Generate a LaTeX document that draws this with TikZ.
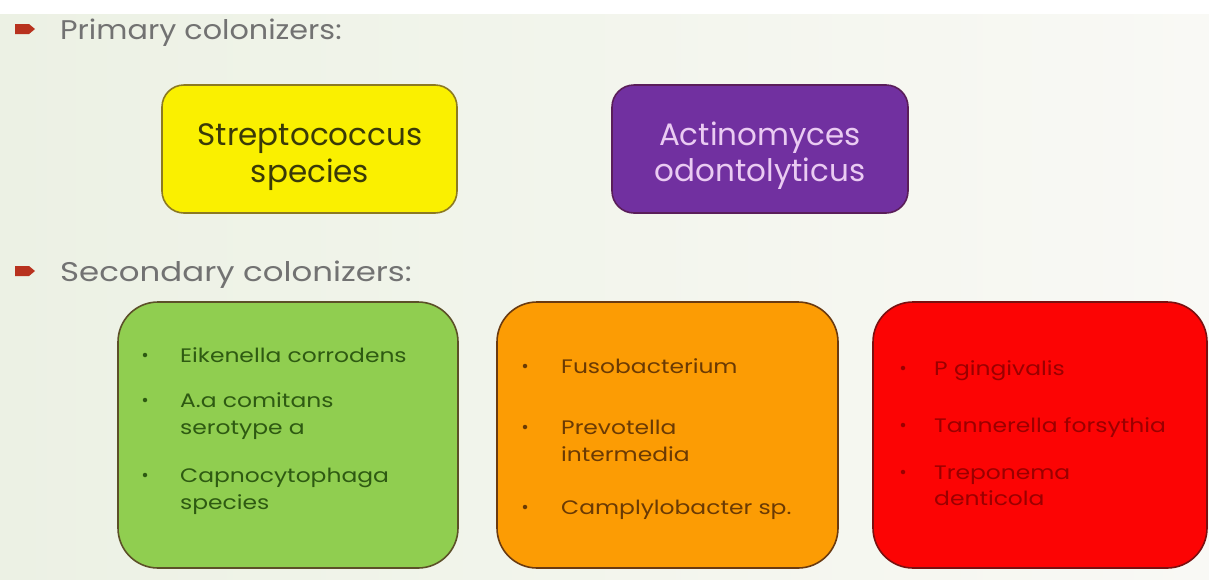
\documentclass[tikz,border=0pt]{standalone}
\usepackage{fontspec}
\setmainfont{Poppins}
\newfontfamily\widefont[FakeStretch=1.12]{Poppins}
\newfontfamily\widerfont[FakeStretch=1.2]{Poppins}
\definecolor{bgL}{HTML}{ECF1E4}
\definecolor{bgR}{HTML}{F9F9F5}
\definecolor{bulletc}{HTML}{B8321E}
\definecolor{headc}{HTML}{727272}
\definecolor{yel}{HTML}{FAF000}
\definecolor{yelB}{HTML}{8C7A22}
\definecolor{yelT}{HTML}{3A3A08}
\definecolor{pur}{HTML}{7130A0}
\definecolor{purB}{HTML}{5A1E5A}
\definecolor{purT}{HTML}{EACBF2}
\definecolor{grn}{HTML}{90CE50}
\definecolor{grnB}{HTML}{5C5028}
\definecolor{grnT}{HTML}{2E5A12}
\definecolor{org}{HTML}{FC9C04}
\definecolor{orgB}{HTML}{6A3A10}
\definecolor{orgT}{HTML}{6A3A04}
\definecolor{redf}{HTML}{FC0404}
\definecolor{redB}{HTML}{7A1010}
\definecolor{redT}{HTML}{9A0000}
\tikzset{
  x=1pt, y=-1pt,
  box/.style={rounded corners=#1, line width=1.6pt},
  head/.style={anchor=base west, text=headc, font=\widefont\fontsize{27}{30}\selectfont, inner sep=0pt},
  bigtext/.style={anchor=base, inner sep=0pt, font=\fontsize{31}{36}\selectfont},
  item/.style={anchor=base west, inner sep=0pt, font=\widerfont\fontsize{19.5}{24}\selectfont},
  dotb/.style={circle, inner sep=0pt, minimum size=4.5pt},
  arrowbul/.style={fill=bulletc, draw=none}
}
\begin{document}
\begin{tikzpicture}
\useasboundingbox (0,0) rectangle (1209,579);
\fill[white] (0,0) rectangle (1209,14);
\shade[left color=bgL, right color=bgR] (0,14) rectangle (1209,579);

% headings
\fill[arrowbul] (15,24) -- (29,24) -- (35,29) -- (29,34) -- (15,34) -- cycle;
\node[head] (h1) at (60,39) {Primary colonizers:};
\fill[arrowbul] (15,266) -- (29,266) -- (35,271) -- (29,276) -- (15,276) -- cycle;
\node[head, font=\widerfont\fontsize{27}{30}\selectfont] (h2) at (60,281) {Secondary colonizers:};

% primary boxes
\draw[box=22pt, fill=yel, draw=yelB] (162,85) rectangle (457,213);
\node[bigtext, text=yelT] (strep1) at (310,145) {Streptococcus};
\node[bigtext, text=yelT] (strep2) at (310,182) {species};
\draw[box=22pt, fill=pur, draw=purB] (612,85) rectangle (908,213);
\node[bigtext, text=purT] (act1) at (760,145) {Actinomyces};
\node[bigtext, text=purT] (act2) at (760,181) {odontolyticus};

% secondary boxes
\draw[box=40pt, fill=grn, draw=grnB] (118,302) rectangle (458,568);
\draw[box=40pt, fill=org, draw=orgB] (497,302) rectangle (838,568);
\draw[box=40pt, fill=redf, draw=redB] (873,302) rectangle (1207,568);

% green items
\begin{scope}[text=grnT]
\node[dotb, fill=grnT] (g1d) at (145,355) {};
\node[item] (g1) at (180,362) {Eikenella corrodens};
\node[dotb, fill=grnT] (g2d) at (145,400) {};
\node[item] (g2a) at (180,407) {A.a comitans};
\node[item] (g2b) at (180,434) {serotype a};
\node[dotb, fill=grnT] (g3d) at (145,475) {};
\node[item] (g3a) at (180,482) {Capnocytophaga};
\node[item] (g3b) at (180,509) {species};
\end{scope}

% orange items
\begin{scope}[text=orgT]
\node[dotb, fill=orgT] (o1d) at (525,366) {};
\node[item] (o1) at (561,373) {Fusobacterium};
\node[dotb, fill=orgT] (o2d) at (525,427) {};
\node[item] (o2a) at (561,434) {Prevotella};
\node[item] (o2b) at (561,461) {intermedia};
\node[dotb, fill=orgT] (o3d) at (525,507) {};
\node[item] (o3) at (561,514) {Camplylobacter sp.};
\end{scope}

% red items
\begin{scope}[text=redT]
\node[dotb, fill=redT] (r1d) at (903,368) {};
\node[item] (r1) at (934,375) {P gingivalis};
\node[dotb, fill=redT] (r2d) at (903,425) {};
\node[item] (r2) at (934,432) {Tannerella forsythia};
\node[dotb, fill=redT] (r3d) at (903,472) {};
\node[item] (r3a) at (934,479) {Treponema};
\node[item] (r3b) at (934,505) {denticola};
\end{scope}
\end{tikzpicture}
\end{document}
